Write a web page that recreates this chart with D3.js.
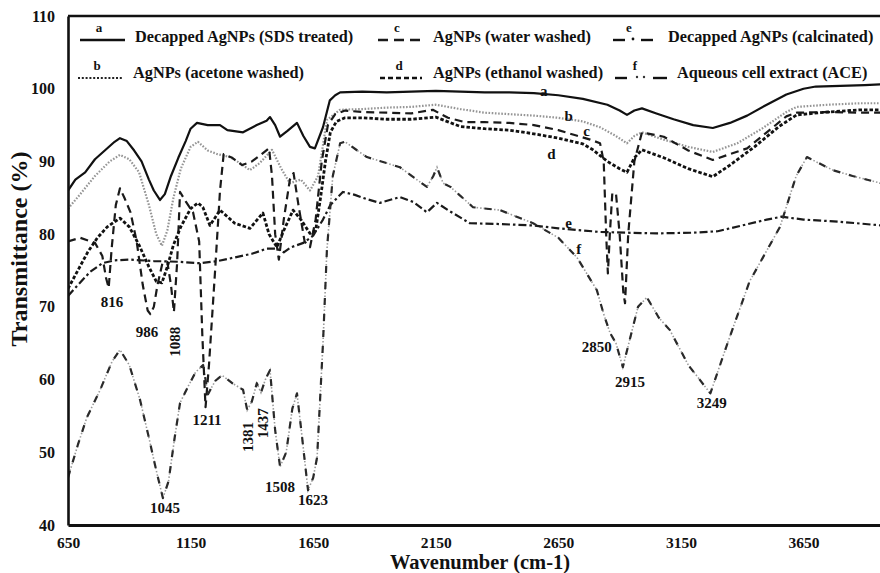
<!DOCTYPE html>
<html><head><meta charset="utf-8">
<script src="https://cdn.jsdelivr.net/npm/d3@7"></script>
<style>
body{margin:0;background:#fff}
svg{display:block}
text{font-family:"Liberation Serif","Times New Roman",serif;font-weight:bold;fill:#111}
</style>
</head><body>
<svg id="chart" width="880" height="573"></svg>
<script>
// ---------- data ----------
const xTicks = [650, 1150, 1650, 2150, 2650, 3150, 3650];
const yTicks = [40, 50, 60, 70, 80, 90, 100, 110];
const seriesKeys = ["a", "b", "c", "d", "e", "f"];
const seriesNames = [
  "Decapped AgNPs (SDS treated)",
  "AgNPs (acetone washed)",
  "AgNPs (water washed)",
  "AgNPs (ethanol washed)",
  "Decapped AgNPs (calcinated)",
  "Aqueous cell extract (ACE)"
];

// [wavenumber, transmittance %]
const specA = [[650,86],[680,87.5],[720,88.5],[760,90.3],[800,91.5],[840,92.7],[862,93.2],[890,92.8],[920,91.5],[950,90],[980,87.5],[1000,86],[1025,84.7],[1045,85.5],[1070,88],[1100,90.5],[1130,92.8],[1150,94.5],[1176,95.3],[1220,95],[1270,95],[1300,94.3],[1364,94],[1420,95],[1460,95.6],[1474,96.1],[1495,95],[1515,93.4],[1545,94.2],[1584,95.3],[1610,93.5],[1637,92],[1657,91.8],[1690,94.7],[1718,98.4],[1740,99.1],[1760,99.5],[1850,99.6],[1950,99.5],[2050,99.6],[2150,99.7],[2250,99.6],[2350,99.5],[2450,99.5],[2550,99.4],[2650,99.1],[2750,98.6],[2850,97.8],[2900,97],[2930,96.4],[2960,97],[2991,97.3],[3050,96.6],[3120,95.8],[3200,95],[3280,94.6],[3350,95.3],[3420,96.3],[3500,97.8],[3580,99.2],[3650,100],[3700,100.3],[3800,100.4],[3900,100.5],[3966,100.6]];

const specB = [[650,83.5],[700,85.5],[760,88],[820,90],[862,90.9],[900,90.3],[940,88.5],[980,84],[1010,80],[1033,78.4],[1055,80.5],[1080,85],[1110,89],[1150,92],[1180,92.7],[1220,91.5],[1260,91],[1311,90.6],[1350,89.8],[1392,88.8],[1433,89.8],[1482,91.6],[1520,89],[1555,87],[1600,87.5],[1637,86],[1670,88],[1706,95.7],[1759,97.1],[1850,97.2],[1950,97.4],[2050,97.5],[2150,97.8],[2250,97.2],[2350,96.7],[2450,96.5],[2550,96.3],[2650,96],[2750,95.5],[2820,94.7],[2880,93.6],[2930,92.5],[2960,93.5],[2991,94],[3080,93],[3180,92],[3280,91.3],[3380,92.5],[3480,94.5],[3580,96.8],[3622,97.5],[3750,97.8],[3880,98],[3966,98]];

const specC = [[650,79],[700,79.5],[760,78.8],[790,77],[805,74],[816,72.6],[828,78],[845,84],[862,86.3],[880,85],[905,83],[930,79],[955,73],[975,69.5],[986,69],[1000,70],[1015,73],[1035,76],[1055,76.2],[1070,73],[1082,69.3],[1095,76],[1107,85.8],[1130,84.5],[1160,83],[1185,79],[1198,66],[1211,56.2],[1225,62],[1250,75],[1270,86],[1285,91],[1320,90.5],[1360,89.5],[1400,90],[1440,91],[1470,91.8],[1482,88],[1495,80],[1510,76.5],[1530,82],[1555,87.5],[1570,88.4],[1590,84],[1615,79],[1637,78.2],[1660,82],[1685,90],[1710,95],[1740,96.5],[1780,97],[1850,96.8],[1950,96.7],[2050,96.6],[2138,97.1],[2200,96],[2270,95.4],[2350,95.4],[2450,95.3],[2550,95],[2650,94.3],[2720,93.6],[2780,93],[2820,92.5],[2835,90],[2845,80],[2852,74.6],[2860,80],[2870,85.6],[2885,85.6],[2900,80],[2915,72],[2922,70.5],[2935,80],[2960,90],[2991,94],[3080,93.4],[3180,91.5],[3280,90.2],[3350,91],[3420,91.8],[3500,94],[3580,96.2],[3622,96.7],[3750,96.8],[3880,96.7],[3966,96.7]];

const specD = [[650,72.5],[690,75],[730,77.5],[770,79.5],[810,81],[862,82.2],[900,81],[940,78.5],[980,75.5],[1010,73.5],[1033,73.3],[1055,75.5],[1080,78.5],[1110,81],[1150,83.5],[1180,84.3],[1200,83.7],[1229,81.2],[1270,83.3],[1330,81.5],[1392,80.8],[1445,82.9],[1470,80],[1502,78.2],[1530,80.5],[1568,83.3],[1600,82],[1637,80.1],[1660,80.5],[1680,85],[1700,90],[1720,94],[1745,95.5],[1780,96],[1850,96],[1950,95.8],[2050,95.8],[2150,96.1],[2250,94.8],[2350,94.5],[2450,94.3],[2550,93.8],[2650,93.2],[2750,92.4],[2791,91.6],[2850,90],[2900,89],[2930,88.5],[2960,90.5],[2991,91.6],[3080,90.5],[3180,89],[3280,87.9],[3350,89.5],[3450,92],[3550,94.8],[3622,96.4],[3750,96.8],[3880,97.1],[3966,97.1]];

const specE = [[650,71.5],[690,73],[740,74.8],[790,76],[840,76.4],[900,76.5],[1000,76.3],[1100,76.2],[1188,76],[1260,76.3],[1330,76.8],[1400,77.3],[1460,78],[1502,78],[1530,77.5],[1560,78.2],[1610,78.8],[1650,79.8],[1690,82],[1720,84],[1771,85.8],[1820,85.4],[1870,84.8],[1922,84.3],[2004,85.1],[2060,84.4],[2114,83],[2155,84.3],[2200,83.3],[2289,81.5],[2400,81.4],[2546,81.2],[2650,80.8],[2820,80.3],[2930,80.2],[3050,80.1],[3200,80.2],[3300,80.4],[3400,81.2],[3500,82],[3560,82.4],[3650,82],[3800,81.7],[3966,81.2]];

const specF = [[650,46.5],[690,51],[727,54.8],[780,58.5],[830,62.5],[862,64.1],[900,62],[944,57.2],[980,52],[1010,47.5],[1037,43.7],[1060,46],[1085,52],[1107,56.8],[1139,59],[1170,61],[1201,62],[1221,58],[1250,59.8],[1278,60.6],[1320,59.5],[1364,58.6],[1381,55.8],[1400,57],[1420,59.5],[1437,58.2],[1455,60],[1474,61.3],[1495,53],[1515,48],[1540,50],[1565,56],[1584,58.1],[1605,52],[1629,44.8],[1650,46.5],[1666,49.3],[1690,65],[1706,77.8],[1730,88],[1760,92.5],[1780,92.7],[1830,91.5],[1869,90.6],[2004,89.2],[2060,87.8],[2114,86.5],[2140,88],[2155,89.2],[2180,87],[2210,86.5],[2302,83.7],[2412,83.3],[2547,81.5],[2650,79.5],[2726,76.8],[2807,72.3],[2835,69],[2861,66.4],[2885,65],[2913,61.7],[2945,66],[2975,70],[3011,71.3],[3060,68.5],[3105,66.8],[3180,62],[3270,58.1],[3340,65],[3430,73.5],[3554,81],[3620,88],[3664,90.6],[3710,89.8],[3770,88.8],[3850,88],[3966,87]];

const spectra = [specA, specB, specC, specD, specE, specF];

// peak annotations: [text, wavenumber, transmittance, rotated]
const peakLabels = [["816",829,70.6,0],["986",972,66.5,0],["1088",1086,65.2,1],["1211",1217,54.4,0],["1381",1384,52.1,1],["1437",1445,54.0,1],["1508",1515,45.2,0],["1623",1649,43.4,0],["1045",1046,42.3,0],["2850",2807,64.5,0],["2915",2942,59.7,0],["3249",3276,56.8,0]];
// series letters inside the plot: [letter, wavenumber, transmittance]
const seriesTags = [["a",2590,99.7],["b",2692,96.2],["c",2765,94.2],["d",2622,91.0],["e",2692,81.6],["f",2733,78.0]];

// ---------- layout ----------
const svg = d3.select("#chart");
const L = 68, R = 881, T = 16, B = 525;
const x = d3.scaleLinear().domain([650, 3966]).range([L, R]);
const y = d3.scaleLinear().domain([40, 110]).range([B, T]);

const styles = {
  a: {stroke:"#111", w:2.2, dash:null},
  b: {stroke:"#959595", w:2.2, dash:"1.6,1.6"},
  c: {stroke:"#1a1a1a", w:2.2, dash:"8,5"},
  d: {stroke:"#111", w:2.8, dash:"3.5,2"},
  e: {stroke:"#1a1a1a", w:2.2, dash:"8,3,2.5,3"},
  f: {stroke:"#2a2a2a", w:2.2, dash:"7,9"}
};

svg.append("clipPath").attr("id","clip").append("rect")
  .attr("x", L).attr("y", T).attr("width", R - L).attr("height", B - T);

const line = d3.line().x(d => x(d[0])).y(d => y(d[1]));
const g = svg.append("g").attr("clip-path","url(#clip)");

// f gets a light dotted underlay (dash-dot-dot look)
g.append("path").datum(specF).attr("d", line).attr("fill","none")
  .attr("stroke","#9a9a9a").attr("stroke-width",1.6).attr("stroke-dasharray","1.5,2");

spectra.forEach((s, i) => {
  const st = styles[seriesKeys[i]];
  g.append("path").datum(s).attr("d", line).attr("fill","none")
    .attr("stroke", st.stroke).attr("stroke-width", st.w)
    .attr("stroke-linejoin","round")
    .attr("stroke-dasharray", st.dash);
});

// axes
const xAxis = svg.append("g").attr("transform", `translate(0,${B})`)
  .call(d3.axisBottom(x).tickValues(xTicks).tickSize(0).tickPadding(11.5).tickFormat(d3.format("d")));
xAxis.select(".domain").attr("stroke","#111").attr("stroke-width",3);
xAxis.selectAll("text").attr("font-size",15.5).attr("font-family","Liberation Serif").attr("font-weight","bold").attr("fill","#111");

const yAxis = svg.append("g").attr("transform", `translate(${L},0)`)
  .call(d3.axisLeft(y).tickValues(yTicks).tickSize(0).tickPadding(13));
yAxis.select(".domain").attr("stroke","#111").attr("stroke-width",2.6);
yAxis.selectAll("text").attr("font-size",16).attr("font-family","Liberation Serif").attr("font-weight","bold").attr("fill","#111");

// top frame line
svg.append("line").attr("x1", L).attr("x2", 880).attr("y1", T).attr("y2", T)
  .attr("stroke","#111").attr("stroke-width",2.4);

// axis titles
svg.append("text").attr("x", 480).attr("y", 568.5).attr("text-anchor","middle")
  .attr("font-size",20.5).text("Wavenumber (cm-1)");
svg.append("text").attr("transform","translate(27,249) rotate(-90)").attr("text-anchor","middle")
  .attr("font-size",24).text("Transmittance (%)");

// peak labels
peakLabels.forEach(p => {
  const t = svg.append("text").attr("font-size",15).attr("text-anchor","middle")
    .attr("dominant-baseline","central").text(p[0]);
  if (p[3]) t.attr("transform", `translate(${x(p[1])},${y(p[2])}) rotate(-90)`);
  else t.attr("x", x(p[1])).attr("y", y(p[2]));
});

// series tags in plot
seriesTags.forEach(s => {
  svg.append("text").attr("x", x(s[1])).attr("y", y(s[2])).attr("font-size",15)
    .attr("text-anchor","middle").attr("dominant-baseline","central").text(s[0]);
});

// legend
const legendPos = [[80,40],[78,78],[378,40],[380,78],[613,40],[613,78]];
const legend = svg.append("g");
seriesKeys.forEach((k, i) => {
  const [lx, ly] = legendPos[i];
  const st = styles[k];
  const gl = legend.append("g");
  if (k === "e") {
    gl.append("line").attr("x1",lx).attr("x2",lx+12).attr("y1",ly).attr("y2",ly).attr("stroke","#111").attr("stroke-width",2.4);
    gl.append("circle").attr("cx",lx+20).attr("cy",ly-1).attr("r",1.4).attr("fill","#111");
    gl.append("line").attr("x1",lx+28).attr("x2",lx+40).attr("y1",ly).attr("y2",ly).attr("stroke","#111").attr("stroke-width",2.4);
  } else if (k === "f") {
    gl.append("line").attr("x1",lx+2).attr("x2",lx+14).attr("y1",ly).attr("y2",ly).attr("stroke","#111").attr("stroke-width",2.4);
    gl.append("circle").attr("cx",lx+24).attr("cy",ly-1).attr("r",1.2).attr("fill","#333");
    gl.append("circle").attr("cx",lx+31).attr("cy",ly-1).attr("r",1.2).attr("fill","#333");
    gl.append("line").attr("x1",lx+40).attr("x2",lx+54).attr("y1",ly).attr("y2",ly).attr("stroke","#111").attr("stroke-width",2.4);
  } else {
    const len = (k === "a" || k === "b") ? 45 : 42;
    gl.append("line").attr("x1",lx).attr("x2",lx+len).attr("y1",ly).attr("y2",ly)
      .attr("stroke", k === "b" ? "#222" : st.stroke).attr("stroke-width", k === "b" ? 2.2 : 2.4)
      .attr("stroke-dasharray", k === "c" ? "10,6" : (k === "d" ? "5,3" : (k === "b" ? "2,1.8" : null)));
  }
  const letterX = (k === "e") ? lx + 16 : (k === "f" ? lx + 22 : lx + 19);
  gl.append("text").attr("x", letterX).attr("y", ly - 8).attr("font-size",13)
    .attr("text-anchor","middle").text(k);
  const textX = [135,133,433,433,668,677][i];
  gl.append("text").attr("x", textX).attr("y", ly - (i % 2 ? 4 : 2)).attr("font-size",16.3)
    .attr("dominant-baseline","middle").text(seriesNames[i]);
});
</script>
</body></html>
